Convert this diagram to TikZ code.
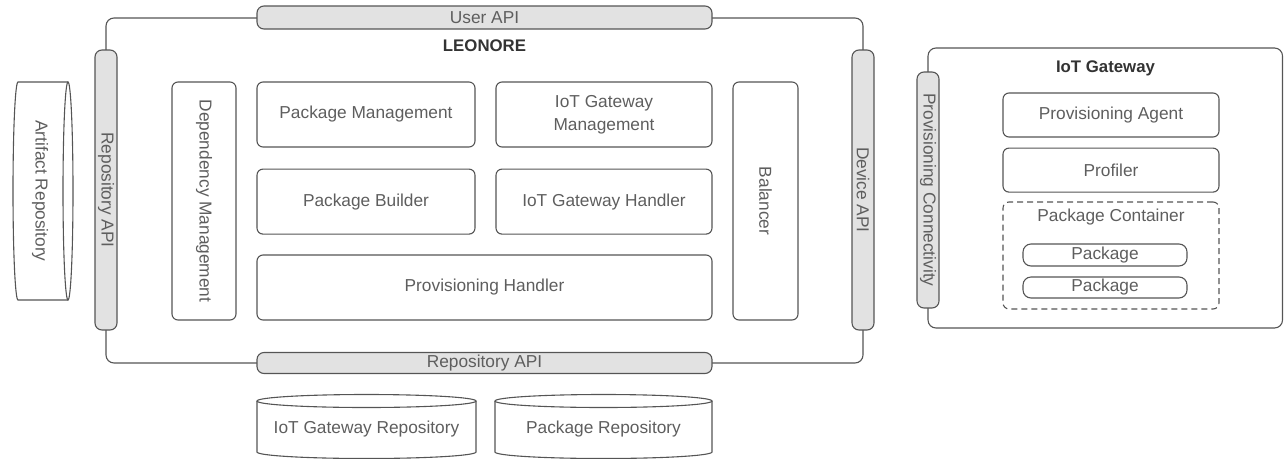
\documentclass[tikz,border=0pt]{standalone}
\usepackage{fontspec}
\setmainfont{Liberation Sans}
\usetikzlibrary{positioning}
\definecolor{linegray}{HTML}{555555}
\definecolor{textgray}{HTML}{5E5E5E}
\definecolor{barfill}{HTML}{E2E2E2}

\begin{document}
\begin{tikzpicture}[x=1pt,y=-1pt,
box/.style={draw=linegray,line width=1.1pt,rounded corners=6pt,text=textgray,align=center,inner sep=0pt},
api/.style={box,fill=barfill,rounded corners=7pt},
pkg/.style={box,rounded corners=8pt,minimum width=164pt},
title/.style={text=black!80,font=\fontsize{16.8}{20}\selectfont\bfseries},
frame/.style={draw=linegray,line width=1.1pt,rounded corners=8pt},
every node/.style={font=\fontsize{17.3}{23}\selectfont,text=textgray}]
\useasboundingbox (0,0) rectangle (1284,458);

% LEONORE
\draw [frame] (106,18) rectangle (863,363);
\node [title] (leonore) at (484.5,46) {LEONORE};

\node [box, rotate=-90, minimum width=238pt, minimum height=64pt] (depmgmt) at (204,201) {Dependency Management};
\node [box, minimum width=218pt, minimum height=65pt] (pkgmgmt) at (366,114.5) {Package Management};
\node [box, minimum width=216pt, minimum height=65pt] (gwmgmt) at (604,114.5) {IoT Gateway\\Management};
\node [box, minimum width=218pt, minimum height=65pt] (pkgbuild) [below = 21pt of pkgmgmt] {Package Builder};
\node [box, minimum width=216pt, minimum height=65pt] (gwhandler) [below = 21pt of gwmgmt] {IoT Gateway Handler};
\node [box, minimum width=455pt, minimum height=65pt] (provhandler) at (484.5,287.5) {Provisioning Handler};
\node [box, rotate=-90, minimum width=238pt, minimum height=65pt] (balancer) at (765.5,201) {Balancer};

% APIs
\node [api, minimum width=455pt, minimum height=23pt] (userapi) at (484.5,17.5) {User API};
\node [api, minimum width=455pt, minimum height=21pt] (repoapi) at (484.5,363) {Repository API};
\node [api, rotate=-90, minimum width=280pt, minimum height=22pt] (repoapil) at (106,190) {Repository API};
\node [api, rotate=-90, minimum width=280pt, minimum height=22pt] (deviceapi) at (863,190) {Device API};

% IoT Gateway
\draw [frame] (928,48) rectangle (1282.5,328);
\node [title] (gateway) at (1105.5,68) {IoT Gateway};
\node [api, rotate=-90, minimum width=236pt, minimum height=22pt] (provconn) at (928,190) {Provisioning Connectivity};
\node [box, minimum width=216pt, minimum height=44pt] (agent) at (1111,115) {Provisioning Agent};
\node [box, minimum width=216pt, minimum height=44pt] (profiler) [below = 10pt of agent] {Profiler};
\node [box, dash pattern=on 6pt off 4pt, minimum width=216pt, minimum height=107pt] (container) at (1111,255.5) {};
\node (ctitle) at (1111,217) {Package Container};
\node [pkg, minimum height=22pt] (pkga) at (1105,255) {Package};
\node [pkg, minimum height=21pt] (pkgb) at (1105,287.5) {Package};

% repositories
\draw [linegray, line width=1.1pt] (68,82) -- (18,82) arc [start angle=90, end angle=270, x radius=5pt, y radius=109pt] -- (68,300);
\draw [linegray, line width=1.1pt] (68,191) ellipse [x radius=5pt, y radius=109pt];
\node [rotate=-90] (artifact) at (40,191) {Artifact Repository};

\draw [linegray, line width=1.1pt] (257,401) -- (257,452) arc [start angle=180, end angle=360, x radius=109.5pt, y radius=6.5pt] -- (476,401);
\draw [linegray, line width=1.1pt] (366.5,401) ellipse [x radius=109.5pt, y radius=6.5pt];
\node (gwrepo) at (366.5,429) {IoT Gateway Repository};

\draw [linegray, line width=1.1pt] (495,401) -- (495,452) arc [start angle=180, end angle=360, x radius=108.5pt, y radius=6.5pt] -- (712,401);
\draw [linegray, line width=1.1pt] (603.5,401) ellipse [x radius=108.5pt, y radius=6.5pt];
\node (pkgrepo) at (603.5,429) {Package Repository};
\end{tikzpicture}
\end{document}
